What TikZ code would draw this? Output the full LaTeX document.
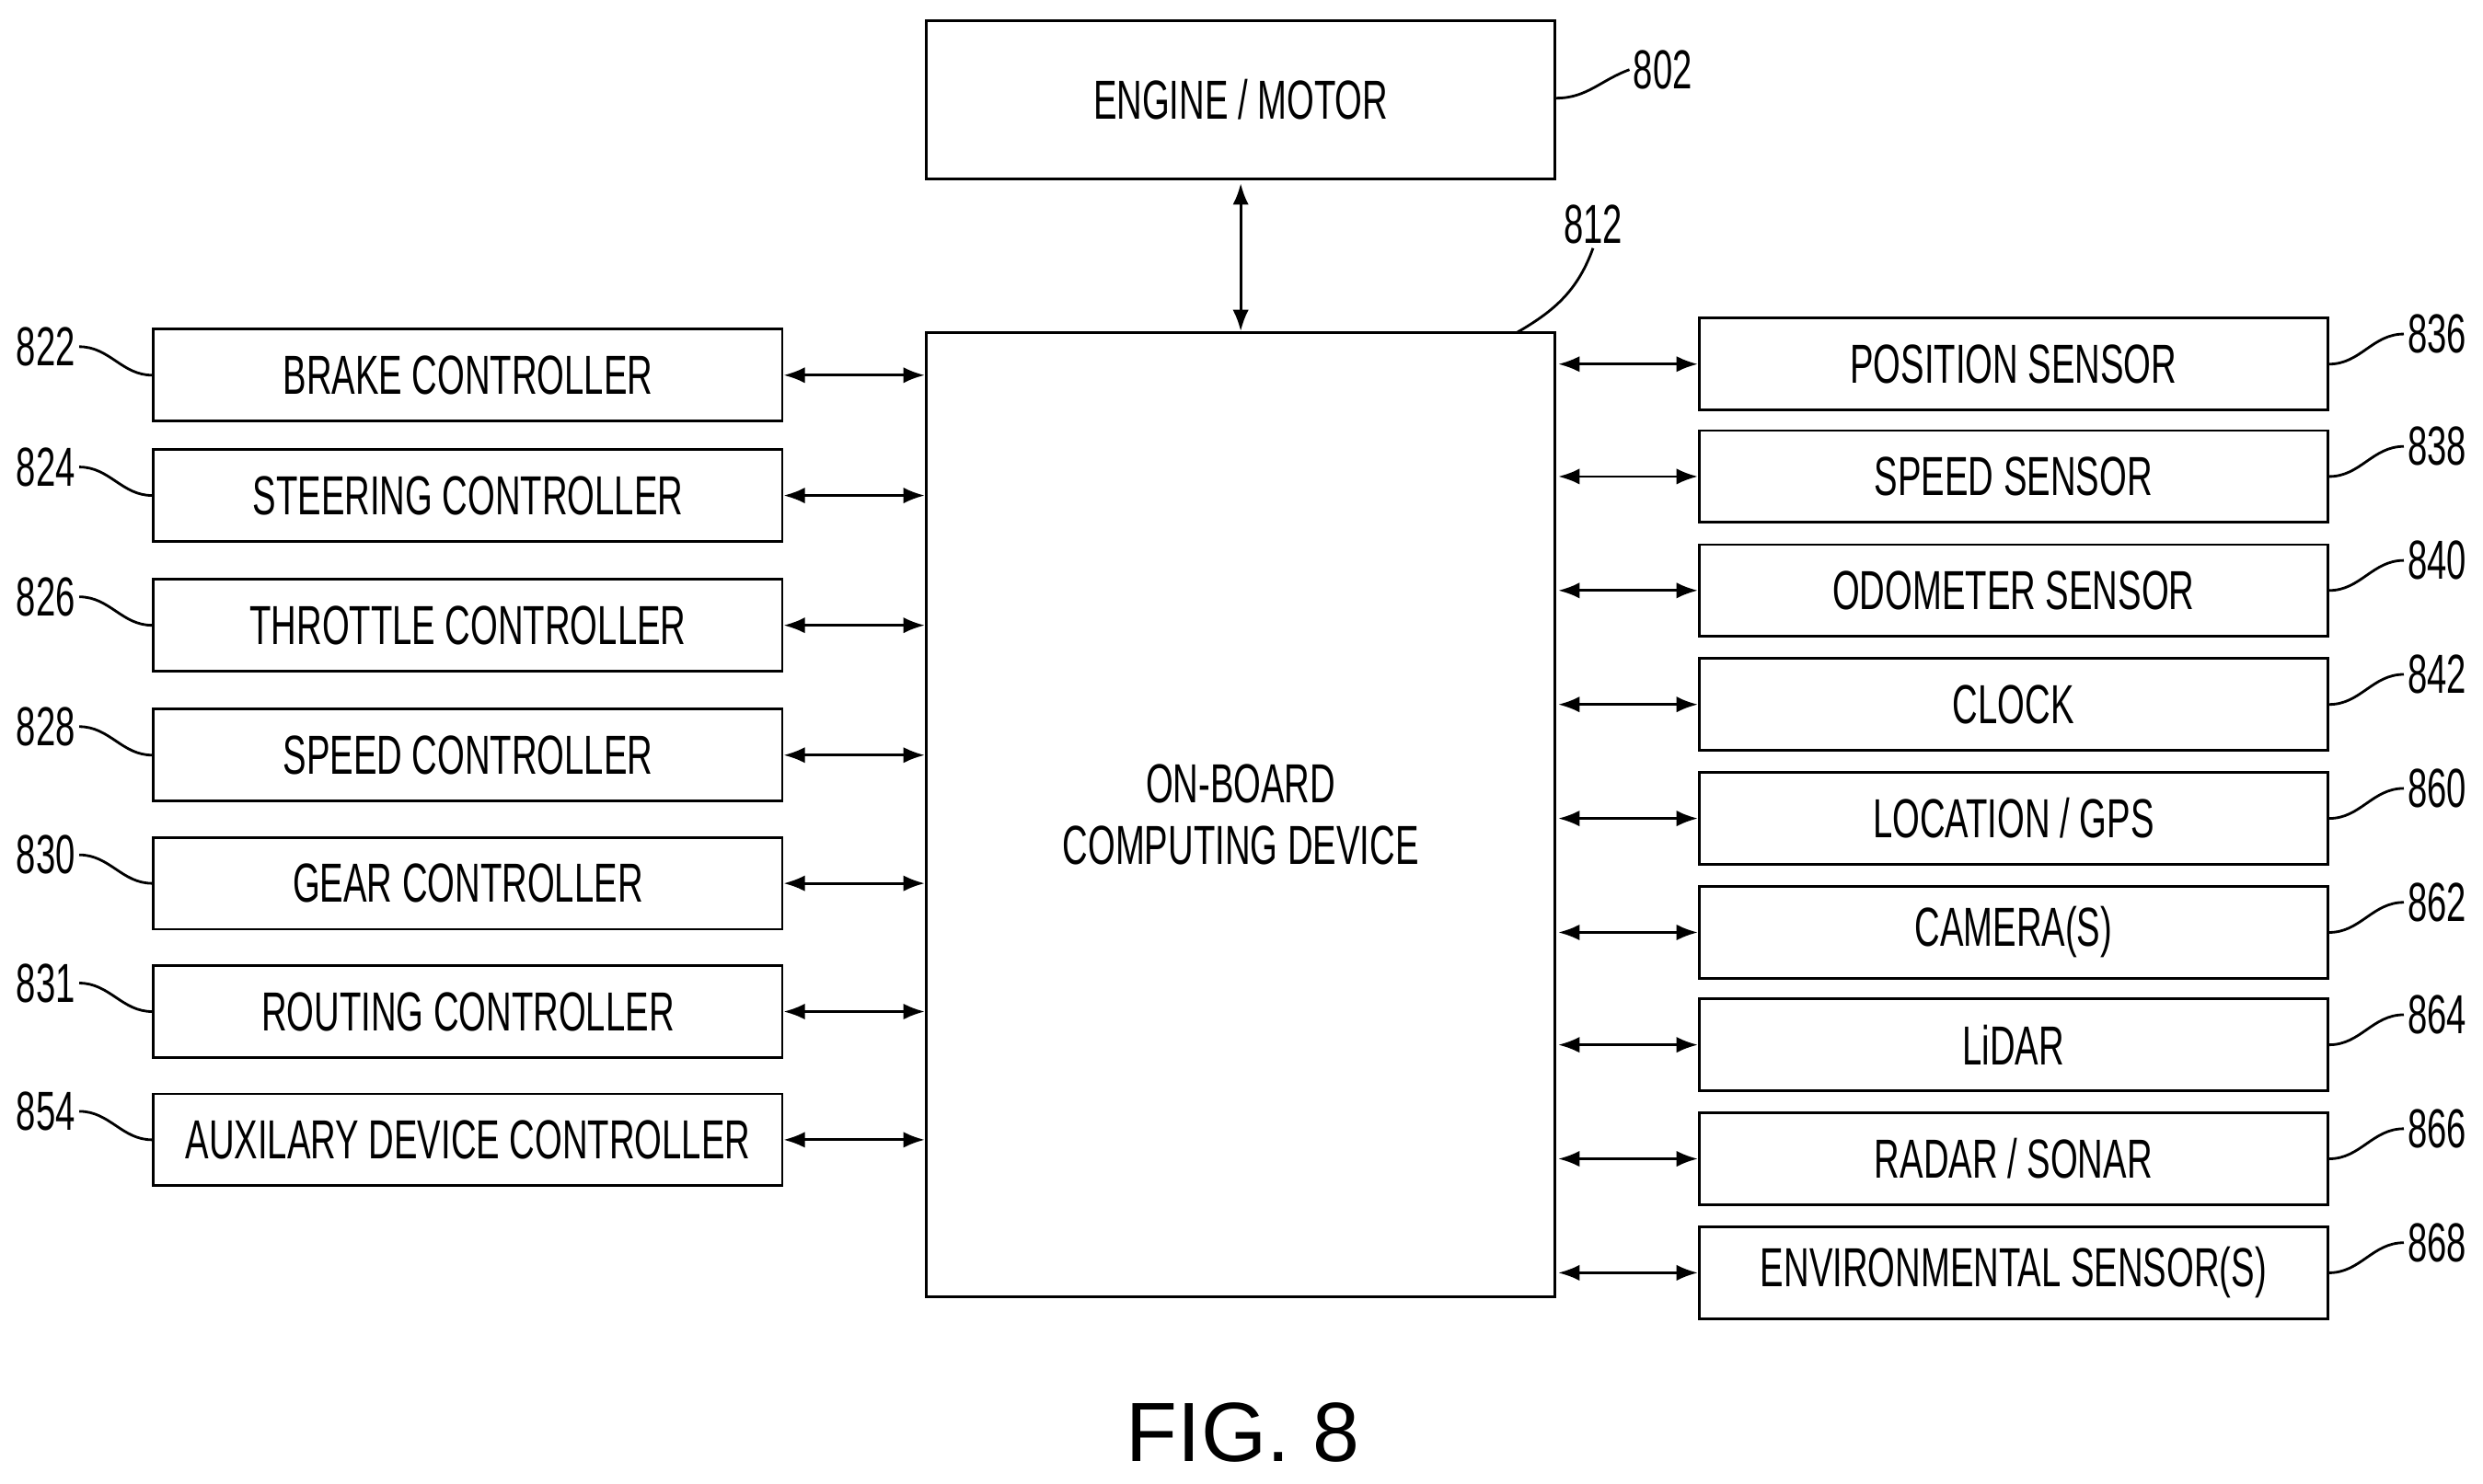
\documentclass[tikz,border=0pt]{standalone}
\usepackage{fontspec}
\setmainfont{Liberation Sans}[FakeStretch=0.64]
\newfontfamily\figfont{Liberation Sans}
\usetikzlibrary{positioning,arrows.meta}
\begin{document}
\begin{tikzpicture}[x=0.0172cm,y=-0.0172cm]
\tikzset{
blk/.style={draw=black, thick, rectangle, minimum width=397*0.0172cm, minimum height=58*0.0172cm, inner sep=0pt, font=\fontsize{17}{19}\selectfont},
ref/.style={font=\fontsize{17}{19}\selectfont, inner sep=1pt},
link/.style={Latex-Latex, thick},
lead/.style={thick}
}
\useasboundingbox (0,0) rectangle (1568,937);

\node[draw=black, thick, minimum width=397*0.0172cm, minimum height=100*0.0172cm,
font=\fontsize{17}{19}\selectfont] (engine) at (783.5,63) {ENGINE / MOTOR};
\node[draw=black, thick, minimum width=397*0.0172cm, minimum height=609*0.0172cm,
align=center, font=\fontsize{17}{19}\selectfont] (obc) at (783.5,514.5) {ON-BOARD\\COMPUTING DEVICE};

\draw[link] (engine.south) ++(0,2) -- (obc.north);

% left column
\foreach \nm/\txt/\yy/\num in {brake/BRAKE CONTROLLER/237/822, steer/STEERING CONTROLLER/313/824,
  throttle/THROTTLE CONTROLLER/395/826, speedc/SPEED CONTROLLER/477/828,
  gear/GEAR CONTROLLER/558/830, routing/ROUTING CONTROLLER/639/831,
  aux/AUXILARY DEVICE CONTROLLER/720/854}{
  \node[blk] (\nm) at (295.5,\yy) {\txt};
  \node[ref] (\nm-r) at (29,\yy-18) {\num};
  \draw[lead] (\nm-r.east) to[out=0,in=180] (\nm.west);
  \coordinate (\nm-e) at (584,\yy);
  \draw[link] (\nm.east) -- (\nm-e);
}

% right column
\foreach \nm/\txt/\yy/\num in {pos/POSITION SENSOR/230/836, speeds/SPEED SENSOR/301/838,
  odo/ODOMETER SENSOR/373/840, clock/CLOCK/445/842, gps/{LOCATION / GPS}/517/860,
  cam/CAMERA(S)/589/862, lidar/LiDAR/660/864, radar/{RADAR / SONAR}/732/866,
  env/ENVIRONMENTAL SENSOR(S)/804/868}{
  \node[blk] (\nm) at (1271.5,\yy) {\txt};
  \node[ref] (\nm-r) at (1539,\yy-19) {\num};
  \draw[lead] (\nm.east) to[out=0,in=180] (\nm-r.west);
  \coordinate (\nm-w) at (984,\yy);
  \draw[link] (\nm-w) -- (\nm.west);
}

\node[ref] (obc-r) at (1006,142) {812};
\draw[lead] (958,210) to[out=30,in=250] (obc-r.south);
\node[ref] (engine-r) at (1050,44) {802};
\draw[lead] (engine.east |- 0,62) to[out=0,in=200] (engine-r.west);

\node[font=\figfont\fontsize{26}{30}\selectfont] (fig) at (785,905) {FIG. 8};
\end{tikzpicture}
\end{document}
